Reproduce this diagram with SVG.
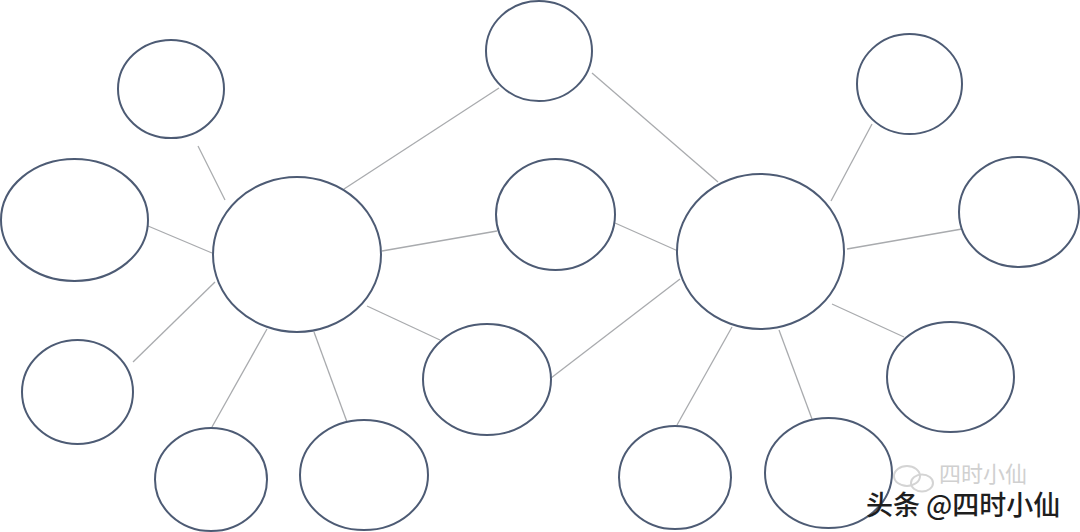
<svg xmlns="http://www.w3.org/2000/svg" width="1080" height="532" viewBox="0 0 1080 532">
<style>
.n{fill:#ffffff;stroke:#4d5b74;stroke-width:2}
.c line{stroke:#a9abae;stroke-width:1.3}
.wm{font-family:"Noto Sans CJK SC","Liberation Sans",sans-serif}
</style>
<rect width="1080" height="532" fill="#ffffff"/>
<g id="connectors" class="c">
<line x1="198" y1="146" x2="225" y2="200"/>
<line x1="148" y1="226" x2="212" y2="253"/>
<line x1="133" y1="362" x2="215" y2="282"/>
<line x1="267" y1="329" x2="212" y2="427"/>
<line x1="314" y1="332" x2="347" y2="422"/>
<line x1="344" y1="189" x2="499" y2="88"/>
<line x1="382" y1="251" x2="497" y2="231"/>
<line x1="367" y1="306" x2="440" y2="340"/>
<line x1="592" y1="73" x2="718" y2="182"/>
<line x1="615" y1="223" x2="678" y2="251"/>
<line x1="551" y1="378" x2="680" y2="279"/>
<line x1="732" y1="327" x2="677" y2="425"/>
<line x1="779" y1="330" x2="812" y2="419"/>
<line x1="831" y1="201" x2="872" y2="124"/>
<line x1="847" y1="249" x2="962" y2="229"/>
<line x1="832" y1="304" x2="904" y2="337"/>
</g>
<g id="n1"><ellipse class="n" cx="171" cy="89" rx="53" ry="49"/></g>
<g id="n2"><ellipse class="n" cx="74.5" cy="220" rx="73.5" ry="61"/></g>
<g id="n3"><ellipse class="n" cx="297" cy="254.5" rx="84" ry="77.5"/></g>
<g id="n4"><ellipse class="n" cx="77.5" cy="392" rx="55.5" ry="52"/></g>
<g id="n5"><ellipse class="n" cx="211" cy="479.5" rx="56" ry="51.5"/></g>
<g id="n6"><ellipse class="n" cx="364" cy="475" rx="64" ry="55"/></g>
<g id="n7"><ellipse class="n" cx="487" cy="379.5" rx="64" ry="55.5"/></g>
<g id="n8"><ellipse class="n" cx="555.5" cy="214.5" rx="59.5" ry="55.5"/></g>
<g id="n9"><ellipse class="n" cx="539" cy="51" rx="53" ry="50"/></g>
<g id="n10"><ellipse class="n" cx="760.5" cy="251.5" rx="83.5" ry="77.5"/></g>
<g id="n11"><ellipse class="n" cx="909.5" cy="84" rx="52.5" ry="50"/></g>
<g id="n12"><ellipse class="n" cx="1019" cy="212" rx="60" ry="55"/></g>
<g id="n13"><ellipse class="n" cx="950.5" cy="377" rx="63.5" ry="55"/></g>
<g id="n14"><ellipse class="n" cx="675" cy="477.5" rx="56" ry="51.5"/></g>
<g id="n15"><ellipse class="n" cx="828.5" cy="473" rx="63.5" ry="55"/></g>
<g id="watermark">
<g fill="none" stroke="#d4d4d4" stroke-width="2">
<ellipse cx="907" cy="476" rx="13" ry="10"/>
<ellipse cx="922" cy="483" rx="11" ry="8.5"/>
</g>
<text class="wm" x="939" y="482" font-size="22" fill="#d0d0d0">四时小仙</text>
<text class="wm" x="866" y="515" font-size="27" font-weight="500" fill="#1e1e1e">头条 @四时小仙</text>
</g>
</svg>
